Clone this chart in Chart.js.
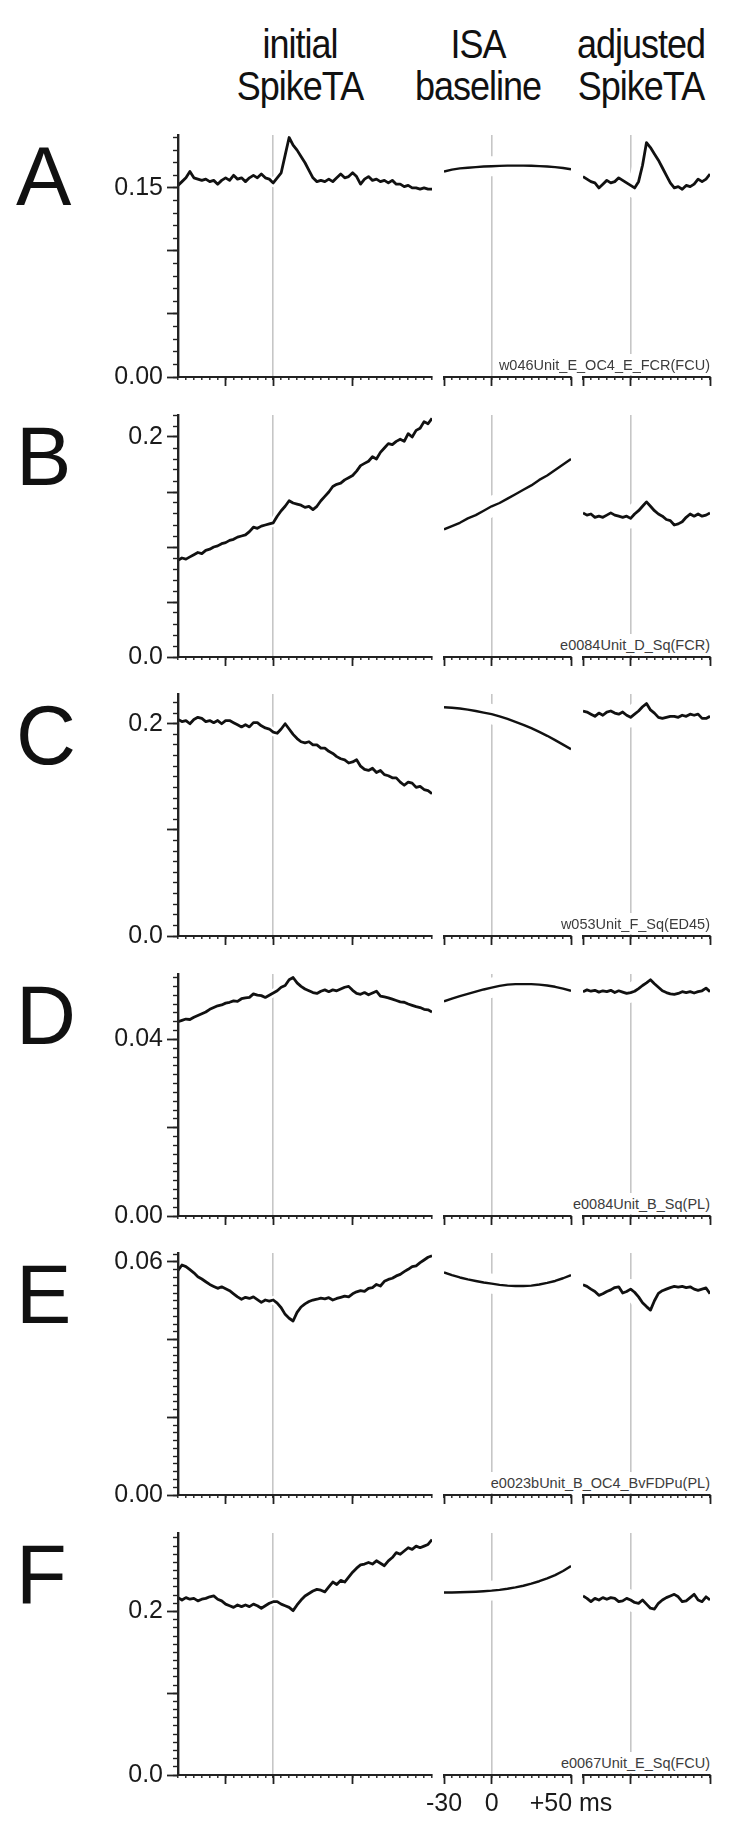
<!DOCTYPE html>
<html>
<head>
<meta charset="utf-8">
<title>SpikeTA</title>
<script src="https://cdn.jsdelivr.net/npm/chart.js@4.4.1/dist/chart.umd.min.js"></script>
<style>
  body { margin: 0; background: #fff; font-family: 'Liberation Sans', Arial, sans-serif; color: #111; }
  #page { position: relative; width: 753px; height: 1826px; overflow: hidden; }
  #page canvas { position: absolute; left: 0; }
  .title { position: absolute; width: 220px; text-align: center; font-size: 36px; line-height: 36.5px; letter-spacing: -1px; transform: scaleY(1.15); transform-origin: top center; }
  .letter { position: absolute; left: 16px; font-size: 83px; line-height: 83px; }
  .note { position: absolute; right: 43px; z-index: 2; background: #fff; padding: 3px 0 2px 2px; font-size: 14.5px; line-height: 16px; color: #3c3c3c; white-space: nowrap; }
</style>
</head>
<body>
<div id="page"></div>
<script>
// time bases (ms)
const tInit = [-60,-57.5,-55,-52.5,-50,-47.5,-45,-42.5,-40,-37.5,-35,-32.5,-30,-27.5,-25,-22.5,-20,-17.5,-15,-12.5,-10,-7.5,-5,-2.5,0,2.5,5,7.5,10,12.5,15,17.5,20,22.5,25,27.5,30,32.5,35,37.5,40,42.5,45,47.5,50,52.5,55,57.5,60,62.5,65,67.5,70,72.5,75,77.5,80,82.5,85,87.5,90,92.5,95,97.5,100];
const tIsa = [-30,-25,-20,-15,-10,-5,0,5,10,15,20,25,30,35,40,45,50];
const tAdj = [-30,-27.5,-25,-22.5,-20,-17.5,-15,-12.5,-10,-7.5,-5,-2.5,0,2.5,5,7.5,10,12.5,15,17.5,20,22.5,25,27.5,30,32.5,35,37.5,40,42.5,45,47.5,50];

const rowLetters = ['A', 'B', 'C', 'D', 'E', 'F'];
const unitNotes = ['w046Unit_E_OC4_E_FCR(FCU)', 'e0084Unit_D_Sq(FCR)', 'w053Unit_F_Sq(ED45)', 'e0084Unit_B_Sq(PL)', 'e0023bUnit_B_OC4_BvFDPu(PL)', 'e0067Unit_E_Sq(FCU)'];
const columnTitles = [['initial', 'SpikeTA'], ['ISA', 'baseline'], ['adjusted', 'SpikeTA']];

const yMaxes = [0.192, 0.22, 0.228, 0.0548, 0.0623, 0.296];
const yMajorSteps = [0.05, 0.05, 0.1, 0.02, 0.02, 0.1];
const yMinorSteps = [0.01, 0.01, 0.01, 0.002, 0.002, 0.01];
const yLabelValues = [[0, 0.15], [0, 0.2], [0, 0.2], [0, 0.04], [0, 0.06], [0, 0.2]];
const yLabelTexts = [['0.00', '0.15'], ['0.0', '0.2'], ['0.0', '0.2'], ['0.00', '0.04'], ['0.00', '0.06'], ['0.0', '0.2']];
const xMajorTicks = [-30, 0, 50];
const xMajorLabels = ['-30', '0', '+50 ms'];
const xMinorStep = 5;

const initA = [0.152,0.155,0.158,0.163,0.158,0.157,0.156,0.157,0.155,0.156,0.153,0.156,0.158,0.156,0.160,0.157,0.158,0.155,0.158,0.160,0.158,0.161,0.158,0.157,0.154,0.158,0.162,0.176,0.190,0.184,0.180,0.175,0.170,0.164,0.158,0.155,0.156,0.155,0.157,0.155,0.158,0.161,0.158,0.159,0.162,0.159,0.153,0.157,0.159,0.156,0.157,0.155,0.156,0.154,0.156,0.153,0.153,0.151,0.152,0.150,0.150,0.149,0.150,0.149,0.149];
const isaA = [0.163,0.1645,0.1655,0.166,0.1665,0.167,0.1672,0.1675,0.1677,0.1677,0.1677,0.1676,0.1673,0.167,0.1665,0.1658,0.1648];
const adjA = [0.159,0.157,0.155,0.154,0.150,0.153,0.156,0.154,0.155,0.158,0.156,0.154,0.152,0.150,0.155,0.168,0.186,0.182,0.177,0.172,0.166,0.160,0.154,0.150,0.151,0.149,0.152,0.151,0.153,0.157,0.155,0.157,0.161];

const initB = [0.088,0.090,0.089,0.091,0.093,0.095,0.094,0.097,0.098,0.100,0.101,0.103,0.104,0.106,0.107,0.109,0.110,0.111,0.114,0.118,0.117,0.119,0.120,0.121,0.122,0.128,0.133,0.137,0.142,0.140,0.139,0.138,0.136,0.137,0.134,0.137,0.142,0.146,0.150,0.155,0.157,0.158,0.161,0.163,0.165,0.169,0.174,0.176,0.178,0.182,0.180,0.186,0.190,0.194,0.193,0.196,0.198,0.196,0.203,0.200,0.206,0.208,0.214,0.212,0.217];
const isaB = [0.116,0.119,0.122,0.126,0.129,0.133,0.137,0.140,0.144,0.148,0.152,0.156,0.161,0.165,0.170,0.175,0.180];
const adjB = [0.131,0.129,0.130,0.127,0.128,0.127,0.129,0.131,0.129,0.128,0.127,0.128,0.126,0.130,0.133,0.137,0.141,0.137,0.133,0.130,0.128,0.125,0.124,0.120,0.121,0.123,0.127,0.130,0.128,0.130,0.128,0.129,0.131];

const initC = [0.204,0.202,0.203,0.200,0.204,0.206,0.205,0.202,0.203,0.201,0.203,0.200,0.203,0.203,0.201,0.199,0.197,0.199,0.197,0.201,0.201,0.198,0.196,0.195,0.192,0.191,0.195,0.200,0.195,0.190,0.186,0.183,0.182,0.183,0.180,0.180,0.177,0.177,0.174,0.172,0.169,0.167,0.166,0.163,0.164,0.166,0.160,0.157,0.156,0.158,0.154,0.156,0.152,0.151,0.149,0.149,0.145,0.142,0.145,0.144,0.140,0.141,0.138,0.137,0.134];
const isaC = [0.2155,0.2150,0.2143,0.2133,0.2120,0.2105,0.2090,0.2070,0.2045,0.2018,0.1990,0.1958,0.1923,0.1886,0.1845,0.1803,0.1760];
const adjC = [0.212,0.211,0.209,0.207,0.210,0.208,0.211,0.212,0.210,0.209,0.211,0.208,0.206,0.209,0.212,0.216,0.219,0.213,0.210,0.206,0.205,0.206,0.207,0.207,0.206,0.208,0.207,0.209,0.208,0.209,0.205,0.205,0.207];

const initD = [0.0440,0.0443,0.0446,0.0445,0.0450,0.0454,0.0458,0.0462,0.0468,0.0472,0.0476,0.0478,0.0482,0.0484,0.0487,0.0486,0.0492,0.0494,0.0495,0.0503,0.0500,0.0499,0.0495,0.0500,0.0505,0.0510,0.0518,0.0522,0.0535,0.0540,0.0528,0.0520,0.0514,0.0510,0.0506,0.0504,0.0509,0.0512,0.0508,0.0512,0.0510,0.0514,0.0518,0.0520,0.0511,0.0504,0.0502,0.0506,0.0501,0.0505,0.0509,0.0498,0.0496,0.0494,0.0491,0.0488,0.0485,0.0484,0.0480,0.0477,0.0474,0.0472,0.0468,0.0467,0.0462];
const isaD = [0.0486,0.0492,0.0498,0.0503,0.0508,0.0513,0.0517,0.0521,0.0524,0.0525,0.0525,0.0525,0.0524,0.0522,0.0519,0.0515,0.0510];
const adjD = [0.0508,0.0512,0.0509,0.0511,0.0507,0.0510,0.0508,0.0511,0.0506,0.0510,0.0507,0.0504,0.0506,0.0509,0.0515,0.0522,0.0528,0.0535,0.0526,0.0518,0.0510,0.0506,0.0503,0.0502,0.0504,0.0508,0.0506,0.0508,0.0505,0.0508,0.0510,0.0516,0.0508];

const initE = [0.0578,0.0592,0.0588,0.0580,0.0572,0.0562,0.0556,0.0549,0.0542,0.0537,0.0532,0.0536,0.0531,0.0526,0.0518,0.0510,0.0504,0.0509,0.0506,0.0510,0.0503,0.0496,0.0502,0.0499,0.0502,0.0494,0.0482,0.0465,0.0455,0.0448,0.0470,0.0484,0.0492,0.0498,0.0502,0.0504,0.0507,0.0505,0.0508,0.0502,0.0506,0.0509,0.0512,0.0510,0.0518,0.0523,0.0526,0.0524,0.0532,0.0534,0.0542,0.0538,0.0550,0.0555,0.0558,0.0564,0.0568,0.0575,0.0581,0.0588,0.0590,0.0598,0.0605,0.0612,0.0616];
const isaE = [0.0573,0.0566,0.0560,0.0555,0.0551,0.0547,0.0544,0.0541,0.0539,0.0538,0.0538,0.0539,0.0542,0.0546,0.0551,0.0558,0.0566];
const adjE = [0.0541,0.0537,0.0530,0.0524,0.0514,0.0518,0.0524,0.0528,0.0534,0.0536,0.0520,0.0524,0.0530,0.0522,0.0510,0.0495,0.0485,0.0476,0.0500,0.0519,0.0526,0.0530,0.0534,0.0537,0.0535,0.0537,0.0534,0.0536,0.0530,0.0527,0.0530,0.0533,0.0518];

const initF = [0.217,0.214,0.217,0.215,0.216,0.213,0.215,0.216,0.218,0.219,0.215,0.213,0.209,0.207,0.205,0.208,0.206,0.208,0.206,0.209,0.207,0.204,0.207,0.210,0.212,0.212,0.209,0.207,0.205,0.201,0.208,0.214,0.219,0.222,0.225,0.227,0.226,0.224,0.230,0.236,0.233,0.238,0.236,0.242,0.248,0.253,0.257,0.258,0.260,0.258,0.262,0.259,0.256,0.262,0.266,0.272,0.270,0.274,0.278,0.276,0.280,0.278,0.280,0.282,0.288];
const isaF = [0.2233,0.2233,0.2235,0.2238,0.2242,0.2248,0.2255,0.2265,0.2278,0.2295,0.2315,0.2340,0.2370,0.2405,0.2445,0.2495,0.2555];
const adjF = [0.219,0.216,0.212,0.216,0.214,0.217,0.215,0.217,0.216,0.212,0.213,0.216,0.214,0.211,0.210,0.214,0.209,0.204,0.203,0.210,0.214,0.217,0.219,0.221,0.218,0.212,0.213,0.217,0.221,0.214,0.212,0.218,0.214];

const series = [
  [initA, isaA, adjA], [initB, isaB, adjB], [initC, isaC, adjC],
  [initD, isaD, adjD], [initE, isaE, adjE], [initF, isaF, adjF]
];
const times = [tInit, tIsa, tAdj];

// layout (page pixels)
const rowBottoms = [377, 657, 936, 1216, 1495, 1775];
const plotHeight = 242;
const panels = [
  { left: 178, right: 432, min: -60, max: 100, halo: 8 },
  { left: 444, right: 571, min: -30, max: 50, halo: 20 },
  { left: 583, right: 710, min: -30, max: 50, halo: 20 }
];
const titleCenters = [300, 478, 641];
const axisColor = '#222';
const zeroColor = '#c6c6c6';
const yAxisWidth = 87;

Chart.defaults.font.family = "'Liberation Sans', Arial, sans-serif";
Chart.defaults.color = '#1a1a1a';

const page = document.getElementById('page');

function addDiv(cls, text, css) {
  const d = document.createElement('div');
  d.className = cls;
  d.innerHTML = text;
  d.style.cssText = css;
  page.appendChild(d);
}

function tickList(min, max, step) {
  const out = [];
  const n = Math.floor((max - min) / step + 1e-6);
  for (let i = 0; i <= n; i++) out.push({ value: +(min + i * step).toFixed(6) });
  return out;
}

columnTitles.forEach((t, c) => {
  addDiv('title', t.join('<br>'), `left:${titleCenters[c] - 110}px;top:23px;`);
});

function makePanel(r, c) {
  const p = panels[c];
  const canvas = document.createElement('canvas');
  canvas.width = 753;
  canvas.height = 310;
  canvas.style.top = (rowBottoms[r] - plotHeight - 20) + 'px';
  page.appendChild(canvas);

  const yMax = yMaxes[r];
  const isBottomMiddle = (r === rowBottoms.length - 1 && c === 1);
  const points = times[c].map((x, i) => ({ x: x, y: series[r][c][i] }));

  const scales = {
    x: {
      type: 'linear', position: 'bottom', min: p.min, max: p.max, weight: 0,
      afterBuildTicks: s => { s.ticks = tickList(p.min, p.max, xMinorStep); },
      afterFit: s => { s.height = 0; },
      ticks: { display: false },
      grid: {
        drawOnChartArea: true, tickLength: 3, tickWidth: 1.4, tickColor: axisColor,
        color: ctx => (ctx.tick && ctx.tick.value === 0) ? zeroColor : 'rgba(0,0,0,0)',
        lineWidth: 1.6
      },
      border: { display: true, color: axisColor, width: 2, z: 1 }
    },
    xMajor: {
      type: 'linear', axis: 'x', position: 'bottom', min: p.min, max: p.max, weight: 1,
      afterBuildTicks: s => { s.ticks = xMajorTicks.map(v => ({ value: v })); },
      afterFit: s => { s.height = 40; },
      ticks: {
        display: isBottomMiddle, autoSkip: false, maxRotation: 0, padding: 5,
        font: { size: 25 }, color: '#1a1a1a',
        callback: v => { const k = xMajorTicks.indexOf(v); return k >= 0 ? xMajorLabels[k] : ''; }
      },
      grid: { drawOnChartArea: false, tickLength: 9, tickWidth: 1.8, tickColor: axisColor },
      border: { display: false }
    },
    y: {
      type: 'linear', position: 'left', min: 0, max: yMax, weight: 0, display: c === 0,
      afterBuildTicks: s => { s.ticks = tickList(0, yMax, yMinorSteps[r]); },
      afterFit: s => { s.width = 0; },
      ticks: { display: false },
      grid: { drawOnChartArea: false, tickLength: 5, tickWidth: 1.4, tickColor: axisColor },
      border: { display: true, color: axisColor, width: 2.4, z: 1 }
    }
  };
  if (c === 0) {
    scales.yMajor = {
      type: 'linear', axis: 'y', position: 'left', min: 0, max: yMax, weight: 1,
      afterBuildTicks: s => { s.ticks = tickList(0, yMax, yMajorSteps[r]); },
      afterFit: s => { s.width = yAxisWidth; },
      ticks: {
        autoSkip: false, padding: 4, font: { size: 25 }, color: '#1a1a1a',
        callback: v => {
          const k = yLabelValues[r].findIndex(t => Math.abs(t - v) < 1e-6);
          return k >= 0 ? yLabelTexts[r][k] : '';
        }
      },
      grid: { drawOnChartArea: false, tickLength: 11, tickWidth: 1.8, tickColor: axisColor },
      border: { display: false }
    };
  }

  new Chart(canvas.getContext('2d'), {
    type: 'line',
    data: {
      datasets: [
        {
          // trace
          data: points, xAxisID: 'x', yAxisID: 'y', order: 0,
          borderColor: '#111', borderWidth: c === 1 ? 2.4 : 2.8,
          borderJoinStyle: 'round', pointRadius: 0, tension: 0, fill: false
        },
        {
          // white halo that breaks the zero line under the trace
          data: points, xAxisID: 'x', yAxisID: 'y', order: 1, clip: 0,
          borderColor: '#fff', borderWidth: p.halo,
          borderJoinStyle: 'round', pointRadius: 0, tension: 0, fill: false
        }
      ]
    },
    options: {
      responsive: false,
      animation: false,
      events: [],
      layout: {
        padding: {
          left: c === 0 ? p.left - yAxisWidth : p.left,
          right: 753 - p.right,
          top: 20,
          bottom: 8
        }
      },
      plugins: { legend: { display: false }, tooltip: { enabled: false } },
      scales: scales
    }
  });
}

rowBottoms.forEach((b, r) => {
  addDiv('letter', rowLetters[r], `top:${b - 242}px;`);
  addDiv('note', unitNotes[r], `top:${b - 23}px;`);
  for (let c = 0; c < 3; c++) makePanel(r, c);
});
</script>
</body>
</html>
